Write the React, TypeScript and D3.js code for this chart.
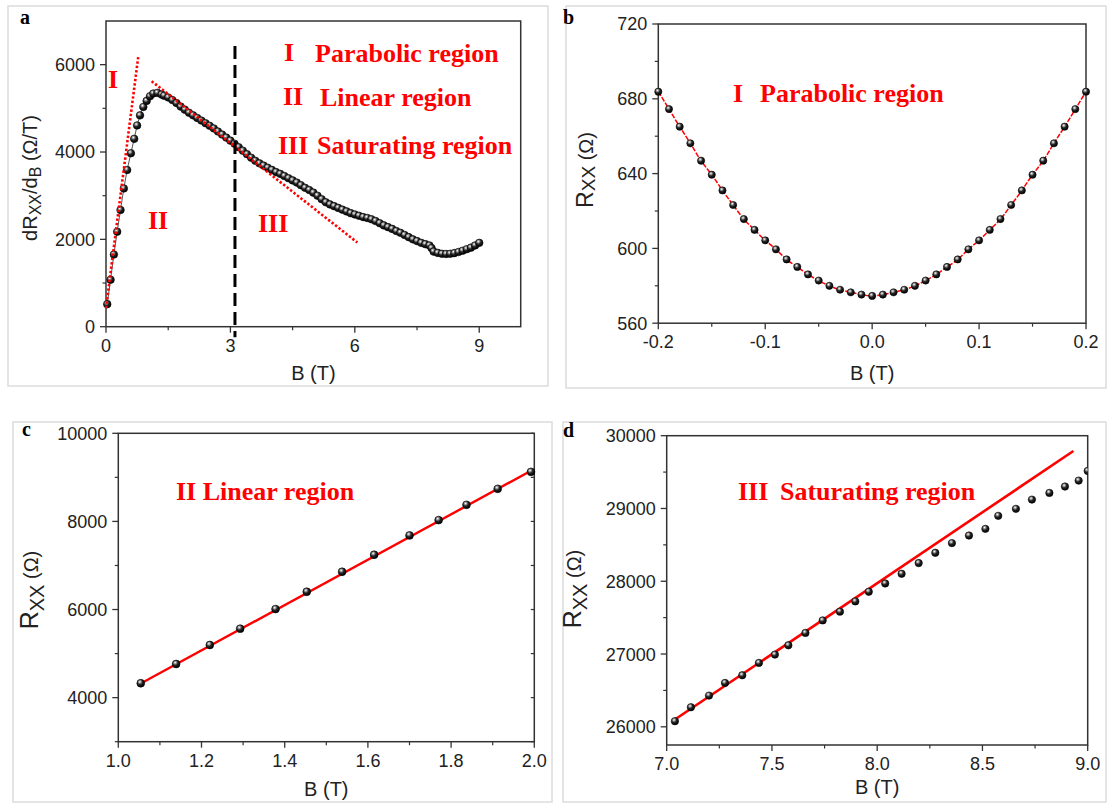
import React from "react";
import * as d3 from "d3";

// ---------------- Panel a : dRxx/dB vs B ----------------
const aB = [0.03, 0.11, 0.19, 0.27, 0.35, 0.43, 0.51, 0.6, 0.68, 0.75, 0.82, 0.9, 0.98, 1.06, 1.14, 1.24, 1.34,
  1.4, 1.5, 1.6, 1.7, 1.8, 1.9, 2.0, 2.1, 2.2, 2.3, 2.4, 2.5, 2.6, 2.7, 2.8, 2.9, 3.0, 3.1, 3.2, 3.3, 3.4, 3.5,
  3.6, 3.7, 3.8, 3.9, 4.0, 4.1, 4.2, 4.3, 4.4, 4.5, 4.6, 4.7, 4.8, 4.9, 5.0, 5.1, 5.2, 5.3, 5.4, 5.5, 5.6, 5.7,
  5.8, 5.9, 6.0, 6.1, 6.2, 6.3, 6.4, 6.5, 6.6, 6.7, 6.8, 6.9, 7.0, 7.1, 7.2, 7.3, 7.4, 7.5, 7.6, 7.7, 7.8, 7.85,
  7.9, 8.0, 8.1, 8.2, 8.3, 8.4, 8.5, 8.6, 8.7, 8.8, 8.9, 9.0];
const aDR = [516, 1076, 1652, 2175, 2673, 3166, 3588, 3972, 4302, 4608, 4839, 5032, 5170, 5276, 5339, 5355, 5316,
  5290, 5250, 5190, 5120, 5040, 4970, 4900, 4840, 4780, 4720, 4660, 4600, 4540, 4470, 4400, 4330, 4260, 4190, 4110,
  4030, 3950, 3870, 3800, 3740, 3690, 3640, 3590, 3540, 3500, 3450, 3400, 3350, 3300, 3240, 3180, 3130, 3070, 3000,
  2920, 2850, 2800, 2760, 2720, 2680, 2640, 2600, 2570, 2540, 2510, 2490, 2460, 2420, 2370, 2320, 2280, 2240, 2190,
  2150, 2100, 2050, 2000, 1960, 1920, 1890, 1860, 1800, 1720, 1690, 1670, 1665, 1670, 1685, 1710, 1740, 1775, 1810,
  1860, 1920];
const aFitIB = [0.0, 0.78];
const aFitIV = [424, 6198];
const aFitIIB = [1.1, 6.06];
const aFitIIV = [5622, 1929];
const aDividerB = 3.11;
const aDividerV = [6430, -240];
const aXMajor = [0, 3, 6, 9];
const aXMinor = [1.5, 4.5, 7.5];
const aYMajor = [0, 2000, 4000, 6000];
const aYMinor = [1000, 3000, 5000];

// ---------------- Panel b : parabolic region ----------------
const bB = [-0.2, -0.19, -0.18, -0.17, -0.16, -0.15, -0.14, -0.13, -0.12, -0.11, -0.1, -0.09, -0.08, -0.07, -0.06,
  -0.05, -0.04, -0.03, -0.02, -0.01, 0.0, 0.01, 0.02, 0.03, 0.04, 0.05, 0.06, 0.07, 0.08, 0.09, 0.1, 0.11, 0.12,
  0.13, 0.14, 0.15, 0.16, 0.17, 0.18, 0.19, 0.2];
const bR = [683.8, 674.5, 665.1, 656.2, 646.9, 639.4, 631.0, 623.2, 615.7, 609.9, 604.3, 599.5, 594.1, 590.1, 586.1,
  582.8, 580.0, 577.9, 576.5, 575.3, 574.6, 575.3, 576.5, 577.9, 580.0, 582.8, 586.1, 590.1, 594.1, 599.5, 604.3,
  609.9, 615.7, 623.2, 631.0, 639.4, 646.9, 656.2, 665.1, 674.5, 683.8];
const bXMajor = [-0.2, -0.1, 0.0, 0.1, 0.2];
const bXMinor = [-0.15, -0.05, 0.05, 0.15];
const bYMajor = [560, 600, 640, 680, 720];
const bYMinor = [580, 620, 660, 700];

// ---------------- Panel c : linear region ----------------
const cB = [1.054, 1.139, 1.22, 1.293, 1.378, 1.453, 1.538, 1.615, 1.7, 1.77, 1.837, 1.912, 1.992];
const cR = [4327, 4764, 5195, 5565, 6011, 6404, 6857, 7243, 7683, 8030, 8377, 8740, 9125];
const cFitB = [1.054, 1.992];
const cFitR = [4320, 9150];
const cXMajor = [1.0, 1.2, 1.4, 1.6, 1.8, 2.0];
const cXMinor = [1.1, 1.3, 1.5, 1.7, 1.9];
const cYMajor = [4000, 6000, 8000, 10000];
const cYMinor = [3000, 5000, 7000, 9000];

// ---------------- Panel d : saturating region ----------------
const dB = [7.039, 7.115, 7.201, 7.277, 7.359, 7.438, 7.514, 7.578, 7.659, 7.741, 7.823, 7.896, 7.96, 8.038, 8.116,
  8.197, 8.276, 8.355, 8.436, 8.514, 8.575, 8.659, 8.735, 8.818, 8.892, 8.957, 9.0];
const dR = [26077, 26269, 26429, 26603, 26708, 26878, 26992, 27120, 27290, 27462, 27582, 27723, 27856, 27970, 28103,
  28250, 28391, 28524, 28628, 28720, 28899, 28995, 29122, 29214, 29301, 29383, 29516];
const dFitB = [7.039, 8.932];
const dFitR = [26100, 29790];
const dXMajor = [7.0, 7.5, 8.0, 8.5, 9.0];
const dXMinor = [7.25, 7.75, 8.25, 8.75];
const dYMajor = [26000, 27000, 28000, 29000, 30000];
const dYMinor = [26500, 27500, 28500, 29500];

const SANS = "'Liberation Sans', Arial, sans-serif";
const SERIF = "'Liberation Serif', 'Times New Roman', serif";
const RED = "#ff0000";
const AX = "#333";

type Sc = d3.ScaleLinear<number, number>;

function Axes(props: {
  x: Sc; y: Sc; xMajor: number[]; xMinor: number[]; yMajor: number[]; yMinor: number[];
  fx: (v: number) => string; fy: (v: number) => string; rightTicks?: boolean;
}) {
  const { x, y, xMajor, xMinor, yMajor, yMinor, fx, fy, rightTicks } = props;
  const [x0, x1] = x.range();
  const [y0, y1] = y.range(); // y0 bottom, y1 top
  return (
    <g>
      <rect x={x0} y={y1} width={x1 - x0} height={y0 - y1} fill="none" stroke={AX} strokeWidth={1.5} />
      {xMajor.map((t) => (
        <g key={"xm" + t}>
          <line x1={x(t)} x2={x(t)} y1={y0} y2={y0 + 6} stroke={AX} strokeWidth={1.3} />
          <text x={x(t)} y={y0 + 25} textAnchor="middle" fontFamily={SANS} fontSize={18} fill="#222">{fx(t)}</text>
        </g>
      ))}
      {xMinor.map((t) => (
        <line key={"xn" + t} x1={x(t)} x2={x(t)} y1={y0} y2={y0 + 3.5} stroke={AX} strokeWidth={1.2} />
      ))}
      {yMajor.map((t) => (
        <g key={"ym" + t}>
          <line x1={x0 - 6} x2={x0} y1={y(t)} y2={y(t)} stroke={AX} strokeWidth={1.3} />
          <text x={x0 - 11} y={y(t)} dy="0.36em" textAnchor="end" fontFamily={SANS} fontSize={18} fill="#222">{fy(t)}</text>
        </g>
      ))}
      {yMinor.map((t) => (
        <line key={"yn" + t} x1={x0 - 3.5} x2={x0} y1={y(t)} y2={y(t)} stroke={AX} strokeWidth={1.2} />
      ))}
      {rightTicks &&
        [...yMajor, ...yMinor].map((t) => (
          <line key={"yr" + t} x1={x1 - 3.5} x2={x1} y1={y(t)} y2={y(t)} stroke={AX} strokeWidth={1.2} />
        ))}
    </g>
  );
}

function Spheres({ xs, ys, x, y, r }: { xs: number[]; ys: number[]; x: Sc; y: Sc; r: number }) {
  return (
    <g>
      {xs.map((b, i) => (
        <circle key={i} cx={x(b)} cy={y(ys[i])} r={r} fill="url(#sph)" stroke="#000" strokeWidth={0.6} />
      ))}
    </g>
  );
}

const zip = (a: number[], b: number[]) => a.map((v, i) => [v, b[i]] as [number, number]);

export default function App() {
  const ax = d3.scaleLinear().domain([0, 10]).range([106, 520.7]);
  const ay = d3.scaleLinear().domain([0, 7000]).range([326.7, 21]);
  const bx = d3.scaleLinear().domain([-0.2, 0.2]).range([658.3, 1086]);
  const by = d3.scaleLinear().domain([560, 720]).range([323.2, 24]);
  const cx = d3.scaleLinear().domain([1, 2]).range([118.3, 534.3]);
  const cy = d3.scaleLinear().domain([3000, 10000]).range([741.7, 433.3]);
  const dx = d3.scaleLinear().domain([7, 9]).range([666.7, 1087.7]);
  const dy = d3.scaleLinear().domain([25750, 30000]).range([745, 435.7]);

  const lineA = d3.line<[number, number]>().x((d) => ax(d[0])).y((d) => ay(d[1]));
  const lineB = d3.line<[number, number]>().x((d) => bx(d[0])).y((d) => by(d[1])).curve(d3.curveNatural);
  const lineC = d3.line<[number, number]>().x((d) => cx(d[0])).y((d) => cy(d[1]));
  const lineD = d3.line<[number, number]>().x((d) => dx(d[0])).y((d) => dy(d[1]));

  const f0 = (v: number) => String(v);
  const f1 = (v: number) => v.toFixed(1);

  const region = { fontFamily: SERIF, fontWeight: 700 as const, fontSize: 26, fill: RED };
  const panelLbl = { fontFamily: SERIF, fontWeight: 700 as const, fontSize: 20, fill: "#000" };

  return (
    <svg width={1107} height={803} style={{ position: "absolute", left: 0, top: 0, background: "#fff" }}>
      <defs>
        <radialGradient id="sph" cx="38%" cy="32%" r="68%">
          <stop offset="0%" stopColor="#ffffff" />
          <stop offset="18%" stopColor="#b0b0b0" />
          <stop offset="50%" stopColor="#262626" />
          <stop offset="100%" stopColor="#000" />
        </radialGradient>
        <clipPath id="clipD">
          <rect x={dx(7)} y={dy(30000)} width={dx(9) - dx(7)} height={dy(25750) - dy(30000)} />
        </clipPath>
      </defs>
      <rect x={0} y={0} width={1107} height={803} fill="#fff" />

      {/* Panel frames */}
      <rect x={8} y={6} width={540} height={380} fill="none" stroke="#dcdcdc" strokeWidth={1.5} />
      <rect x={566} y={6} width={540} height={382} fill="none" stroke="#dcdcdc" strokeWidth={1.5} />
      <rect x={13} y={422} width={539} height={380} fill="none" stroke="#dcdcdc" strokeWidth={1.5} />
      <rect x={563} y={422} width={543} height={380} fill="none" stroke="#dcdcdc" strokeWidth={1.5} />

      {/* ================= Panel a ================= */}
      <text x={20} y={24} {...panelLbl}>a</text>
      <Axes x={ax} y={ay} xMajor={aXMajor} xMinor={aXMinor} yMajor={aYMajor} yMinor={aYMinor} fx={f0} fy={f0} />
      <path d={lineA(zip(aB, aDR)) || ""} fill="none" stroke="#555" strokeWidth={1} />
      <Spheres xs={aB} ys={aDR} x={ax} y={ay} r={3.8} />
      <path d={lineA(zip(aFitIB, aFitIV)) || ""} fill="none" stroke={RED} strokeWidth={2.6} strokeDasharray="2.4,2" />
      <path d={lineA(zip(aFitIIB, aFitIIV)) || ""} fill="none" stroke={RED} strokeWidth={2.6} strokeDasharray="2.4,2" />
      <line x1={ax(aDividerB)} x2={ax(aDividerB)} y1={ay(aDividerV[0])} y2={ay(aDividerV[1])}
        stroke="#000" strokeWidth={3} strokeDasharray="13,6" />
      <text x={108} y={88} {...region}>I</text>
      <text x={148} y={229} {...region}>II</text>
      <text x={258} y={232} {...region}>III</text>
      <text x={284} y={61} {...region}>I</text>
      <text x={315} y={62} {...region}>Parabolic region</text>
      <text x={283} y={105} {...region}>II</text>
      <text x={320} y={106} {...region}>Linear region</text>
      <text x={278} y={154} {...region}>III</text>
      <text x={317} y={154} {...region}>Saturating region</text>
      <text x={ax(5)} y={380} textAnchor="middle" fontFamily={SANS} fontSize={20} fill="#222">B (T)</text>
      <text transform={`translate(37,178) rotate(-90)`} textAnchor="middle" fontFamily={SANS} fontSize={20} fill="#222">
        dR<tspan fontSize={16} dy={4}>XX</tspan><tspan dy={-4}>/d</tspan><tspan fontSize={16} dy={4}>B</tspan>
        <tspan dy={-4}> (Ω/T)</tspan>
      </text>

      {/* ================= Panel b ================= */}
      <text x={563} y={24} {...panelLbl}>b</text>
      <Axes x={bx} y={by} xMajor={bXMajor} xMinor={bXMinor} yMajor={bYMajor} yMinor={bYMinor} fx={f1} fy={f0} />
      <path d={lineB(zip(bB, bR)) || ""} fill="none" stroke={RED} strokeWidth={1.5} strokeDasharray="5,1.5" />
      <Spheres xs={bB} ys={bR} x={bx} y={by} r={3.6} />
      <text x={733} y={102} {...region}>I</text>
      <text x={760} y={102} {...region}>Parabolic region</text>
      <text x={bx(0)} y={380} textAnchor="middle" fontFamily={SANS} fontSize={20} fill="#222">B (T)</text>
      <text transform={`translate(593,170) rotate(-90)`} textAnchor="middle" fontFamily={SANS} fontSize={23} fill="#222">
        R<tspan fontSize={19} dy={2}>XX</tspan><tspan fontSize={20} dy={-2}> (Ω)</tspan>
      </text>

      {/* ================= Panel c ================= */}
      <text x={22} y={436} {...panelLbl}>c</text>
      <Axes x={cx} y={cy} xMajor={cXMajor} xMinor={cXMinor} yMajor={cYMajor} yMinor={cYMinor} fx={f1} fy={f0} rightTicks />
      <path d={lineC(zip(cFitB, cFitR)) || ""} fill="none" stroke={RED} strokeWidth={2.4} />
      <Spheres xs={cB} ys={cR} x={cx} y={cy} r={3.9} />
      <text x={176} y={500} {...region}>II Linear region</text>
      <text x={cx(1.5)} y={796} textAnchor="middle" fontFamily={SANS} fontSize={20} fill="#222">B (T)</text>
      <text transform={`translate(38,590) rotate(-90)`} textAnchor="middle" fontFamily={SANS} fontSize={25} fill="#222">
        R<tspan fontSize={20} dy={6}>XX</tspan><tspan fontSize={20} dy={-6}> (Ω)</tspan>
      </text>

      {/* ================= Panel d ================= */}
      <text x={563} y={437} {...panelLbl}>d</text>
      <Axes x={dx} y={dy} xMajor={dXMajor} xMinor={dXMinor} yMajor={dYMajor} yMinor={dYMinor} fx={f1} fy={f0} />
      <path d={lineD(zip(dFitB, dFitR)) || ""} fill="none" stroke={RED} strokeWidth={2.6} />
      <g clipPath="url(#clipD)">
        <Spheres xs={dB} ys={dR} x={dx} y={dy} r={3.7} />
      </g>
      <text x={738} y={500} {...region}>III</text>
      <text x={780} y={500} {...region}>Saturating region</text>
      <text x={dx(8)} y={794} textAnchor="middle" fontFamily={SANS} fontSize={20} fill="#222">B (T)</text>
      <text transform={`translate(581,589) rotate(-90)`} textAnchor="middle" fontFamily={SANS} fontSize={25} fill="#222">
        R<tspan fontSize={20} dy={6}>XX</tspan><tspan fontSize={20} dy={-6}> (Ω)</tspan>
      </text>
    </svg>
  );
}
